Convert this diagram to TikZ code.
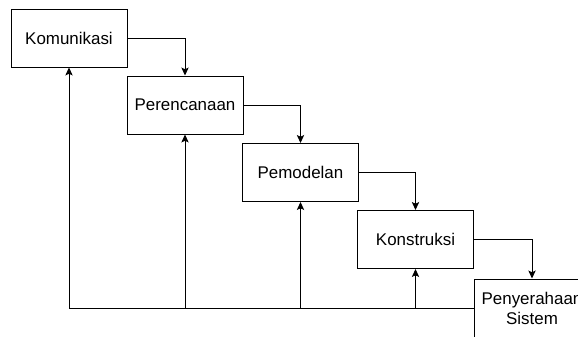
\documentclass[tikz,border=0pt]{standalone}
\usepackage{fontspec}
\setmainfont{Liberation Sans}
\usetikzlibrary{arrows.meta}
\begin{document}
\begin{tikzpicture}[x=0.75pt,y=-0.75pt,
  box/.style={draw=black, line width=0.75pt, fill=white, minimum width=87pt, minimum height=43.5pt, inner sep=0pt, align=center, font=\fontsize{12.7pt}{15pt}\selectfont},
  conn/.style={draw=black, line width=0.75pt, -{Stealth[length=6pt,width=5.5pt,inset=1.3pt]}},
  line/.style={draw=black, line width=0.75pt}]
\useasboundingbox (0,0) rectangle (578,336);
\clip (0,0) rectangle (578,336);
\fill[white] (0,0) rectangle (578,336);
\node[box] (kom) at (69,38) {Komunikasi};
\node[box] (per) at (185,105) {Perencanaan};
\node[box] (pem) at (300.5,172.5) {Pemodelan};
\node[box] (kon) at (415.5,239.5) {Konstruksi};
\node[box] (pen) at (532,308) {Penyerahaan\\Sistem};
\draw[conn] (kom.east) -| (per.north);
\draw[conn] (per.east) -| (pem.north);
\draw[conn] (pem.east) -| (kon.north);
\draw[conn] (kon.east) -| (pen.north);
\draw[conn] (pen.west) -| (kom.south);
\draw[conn] (per.south |- pen.west) -- (per.south);
\draw[conn] (pem.south |- pen.west) -- (pem.south);
\draw[conn] (kon.south |- pen.west) -- (kon.south);
\end{tikzpicture}
\end{document}
